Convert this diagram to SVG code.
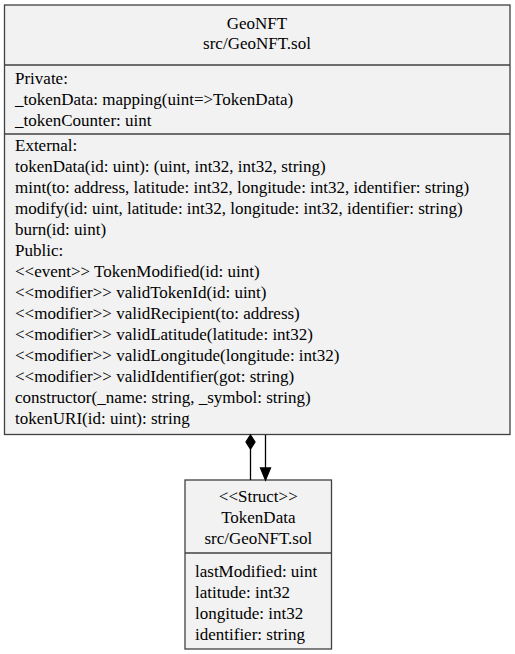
<svg xmlns="http://www.w3.org/2000/svg" width="515" height="654" viewBox="0 0 515 654">
  <style>
    .box { fill: #f2f2f2; stroke: #404040; stroke-width: 1.3; }
    .div { stroke: #404040; stroke-width: 1.3; }
    .c { text-anchor: middle; }
    .edge { stroke: #000; stroke-width: 1.3; fill: none; }
    .head { fill: #000; stroke: #000; stroke-width: 1.3; }
  </style>
  <rect width="515" height="654" fill="#ffffff"/>

  <!-- Contract: GeoNFT -->
  <g id="GeoNFT">
    <rect class="box" x="4.5" y="5" width="505.5" height="429.5"/>
    <line class="div" x1="4.5" y1="65" x2="510" y2="65"/>
    <line class="div" x1="4.5" y1="134" x2="510" y2="134"/>
    <text style="font-family:'Liberation Serif',serif;font-size:17px" class="c" x="257" y="28.5">GeoNFT</text>
    <text style="font-family:'Liberation Serif',serif;font-size:17px" class="c" x="257" y="48.5">src/GeoNFT.sol</text>
    <text style="font-family:'Liberation Serif',serif;font-size:17px" x="15" y="83.5">Private:</text>
    <text style="font-family:'Liberation Serif',serif;font-size:17px" x="15" y="104.5">_tokenData: mapping(uint=&gt;TokenData)</text>
    <text style="font-family:'Liberation Serif',serif;font-size:17px" x="15" y="125.5">_tokenCounter: uint</text>
    <text style="font-family:'Liberation Serif',serif;font-size:17px" x="15" y="151">External:</text>
    <text style="font-family:'Liberation Serif',serif;font-size:17px" x="15" y="172">tokenData(id: uint): (uint, int32, int32, string)</text>
    <text style="font-family:'Liberation Serif',serif;font-size:17px" x="15" y="193">mint(to: address, latitude: int32, longitude: int32, identifier: string)</text>
    <text style="font-family:'Liberation Serif',serif;font-size:17px" x="15" y="214">modify(id: uint, latitude: int32, longitude: int32, identifier: string)</text>
    <text style="font-family:'Liberation Serif',serif;font-size:17px" x="15" y="235">burn(id: uint)</text>
    <text style="font-family:'Liberation Serif',serif;font-size:17px" x="15" y="256">Public:</text>
    <text style="font-family:'Liberation Serif',serif;font-size:17px" x="15" y="277">&lt;&lt;event&gt;&gt; TokenModified(id: uint)</text>
    <text style="font-family:'Liberation Serif',serif;font-size:17px" x="15" y="298">&lt;&lt;modifier&gt;&gt; validTokenId(id: uint)</text>
    <text style="font-family:'Liberation Serif',serif;font-size:17px" x="15" y="319">&lt;&lt;modifier&gt;&gt; validRecipient(to: address)</text>
    <text style="font-family:'Liberation Serif',serif;font-size:17px" x="15" y="340">&lt;&lt;modifier&gt;&gt; validLatitude(latitude: int32)</text>
    <text style="font-family:'Liberation Serif',serif;font-size:17px" x="15" y="361">&lt;&lt;modifier&gt;&gt; validLongitude(longitude: int32)</text>
    <text style="font-family:'Liberation Serif',serif;font-size:17px" x="15" y="382">&lt;&lt;modifier&gt;&gt; validIdentifier(got: string)</text>
    <text style="font-family:'Liberation Serif',serif;font-size:17px" x="15" y="403">constructor(_name: string, _symbol: string)</text>
    <text style="font-family:'Liberation Serif',serif;font-size:17px" x="15" y="424">tokenURI(id: uint): string</text>
  </g>

  <!-- Struct: TokenData -->
  <g id="TokenData">
    <rect class="box" x="185" y="480" width="146.5" height="169"/>
    <line class="div" x1="185" y1="553" x2="331.5" y2="553"/>
    <text style="font-family:'Liberation Serif',serif;font-size:17px" class="c" x="258.3" y="502">&lt;&lt;Struct&gt;&gt;</text>
    <text style="font-family:'Liberation Serif',serif;font-size:17px" class="c" x="258.3" y="523">TokenData</text>
    <text style="font-family:'Liberation Serif',serif;font-size:17px" class="c" x="258.3" y="544">src/GeoNFT.sol</text>
    <text style="font-family:'Liberation Serif',serif;font-size:17px" x="195" y="577">lastModified: uint</text>
    <text style="font-family:'Liberation Serif',serif;font-size:17px" x="195" y="598">latitude: int32</text>
    <text style="font-family:'Liberation Serif',serif;font-size:17px" x="195" y="619">longitude: int32</text>
    <text style="font-family:'Liberation Serif',serif;font-size:17px" x="195" y="640">identifier: string</text>
  </g>

  <!-- Connectors -->
  <g id="edges">
    <!-- composition: GeoNFT owns TokenData -->
    <line class="edge" x1="250.5" y1="449" x2="250.5" y2="480"/>
    <polygon class="head" points="250.5,435 255,442 250.5,449 246,442"/>
    <!-- association: GeoNFT uses TokenData -->
    <line class="edge" x1="265.5" y1="435" x2="265.5" y2="468"/>
    <polygon class="head" points="260.5,468 270.5,468 265.5,480"/>
  </g>
</svg>
